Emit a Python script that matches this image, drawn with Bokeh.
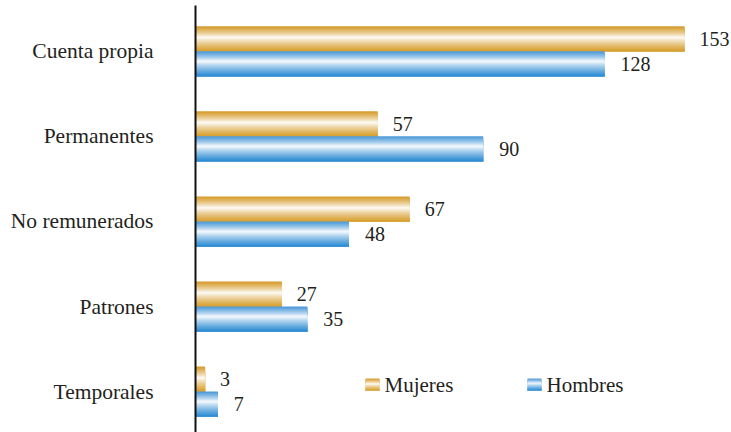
from bokeh.plotting import figure
from bokeh.models import Range1d, FixedTicker, ColumnDataSource
from bokeh.core.properties import value
from bokeh.embed import file_html
from bokeh.resources import INLINE

categories = ["Cuenta propia", "Permanentes", "No remunerados", "Patrones", "Temporales"]
mujeres = [153, 57, 67, 27, 3]
hombres = [128, 90, 48, 35, 7]
series_names = ["Mujeres", "Hombres"]

# gradient styles: (top edge colour, bottom edge colour, position of white band)
GOLD = ((212, 152, 36), (214, 156, 40), 0.45)
BLUE = ((70, 150, 215), (40, 137, 210), 0.40)
FONT = "'Liberation Serif', 'Times New Roman', serif"
FS_VAL = "20px"
FS_CAT = "21.5px"
FS_LEG = "21px"
TXT = "#231f20"

W, H = 731, 432
LEFT = 195
TOP = 5
XMAX = 167.7
scale = (W - LEFT) / XMAX          # px per unit
SP = 85.1                           # px between category centres
C0 = 50.7 - TOP                     # px of first centre from frame top
Y1 = -C0 / SP                       # top of range (flipped)
Y0 = (H - TOP - C0) / SP            # bottom of range
BH = 25 / SP                        # bar height (data units)
NS = 25                             # gradient strips per bar


def grad_color(style, t):
    top, bot, c = style
    if t < c:
        f = (c - t) / c
        edge = top
    else:
        f = (t - c) / (1 - c)
        edge = bot
    f = f ** 0.8
    r, g, b = [int(round(255 * (1 - f) + e * f)) for e in edge]
    return "#%02x%02x%02x" % (r, g, b)


def strips(vals, style, top_offset):
    tops, bots, rights, cols = [], [], [], []
    sh = BH / NS
    for i, v in enumerate(vals):
        top = i + top_offset
        for k in range(NS):
            t = (k + 0.5) / NS
            tops.append(top + k * sh)
            bots.append(top + BH)
            rights.append(v)
            cols.append(grad_color(style, t))
    return ColumnDataSource(dict(top=tops, bottom=bots, right=rights, color=cols))


p = figure(width=W, height=H, output_backend="svg", toolbar_location=None,
           x_range=Range1d(0, XMAX), y_range=Range1d(Y0, Y1),
           min_border_left=LEFT, min_border_right=0, min_border_top=TOP, min_border_bottom=0)
p.outline_line_color = None
p.xgrid.visible = False
p.ygrid.visible = False
p.xaxis.visible = False

ya = p.yaxis[0]
ya.ticker = FixedTicker(ticks=list(range(len(categories))))
ya.major_label_overrides = {i: c for i, c in enumerate(categories)}
ya.major_tick_line_color = None
ya.minor_tick_line_color = None
ya.axis_line_color = "#111111"
ya.axis_line_width = 2
ya.major_label_standoff = 36
ya.major_label_text_font = FONT
ya.major_label_text_font_size = FS_CAT
ya.major_label_text_color = TXT

src_m = strips(mujeres, GOLD, -BH)
src_h = strips(hombres, BLUE, 0.0)
for src in (src_m, src_h):
    p.quad(left=0, right="right", top="top", bottom="bottom", source=src,
           fill_color="color", line_color=None)

idx = list(range(len(categories)))
p.text(x=mujeres, y=[i - BH / 2 for i in idx], text=[str(v) for v in mujeres],
       x_offset=15, text_baseline="middle", text_align="left",
       text_font=value(FONT), text_font_size=FS_VAL, text_color=TXT)
p.text(x=hombres, y=[i + BH / 2 for i in idx], text=[str(v) for v in hombres],
       x_offset=16, text_baseline="middle", text_align="left",
       text_font=value(FONT), text_font_size=FS_VAL, text_color=TXT)


# manual legend (pixel positions converted to data units)
def px2x(px):
    return (px - LEFT) / scale


def py2y(py):
    return Y1 + (py - TOP) / SP


leg_y = py2y(384)
mh = 12 / SP
for (name, style, mx0, tx) in [(series_names[0], GOLD, 365, 384), (series_names[1], BLUE, 527, 546)]:
    n = 12
    tops, bots, cols = [], [], []
    for k in range(n):
        tops.append(leg_y - mh / 2 + k * mh / n)
        bots.append(leg_y + mh / 2)
        cols.append(grad_color(style, (k + 0.5) / n))
    p.quad(left=[px2x(mx0)] * n, right=[px2x(mx0 + 14)] * n, top=tops, bottom=bots,
           fill_color=cols, line_color=None)
    p.text(x=[px2x(tx)], y=[leg_y], text=[name], text_baseline="middle", text_align="left",
           text_font=value(FONT), text_font_size=FS_LEG, text_color=TXT)

open("out.html", "w").write(file_html(p, INLINE))
